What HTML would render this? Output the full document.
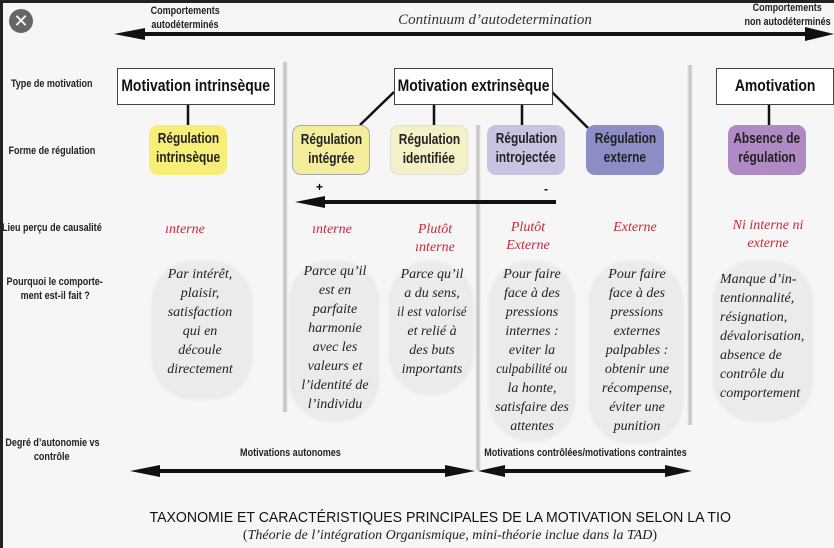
<!DOCTYPE html>
<html><head><meta charset="utf-8"><style>
body{margin:0;width:834px;height:548px;overflow:hidden;background:#f6f6f6;position:relative;font-family:"Liberation Sans",sans-serif}
.a{position:absolute}
.n{display:inline-block;transform:scaleX(.82);transform-origin:center;white-space:nowrap;margin:0 -80px}
.lbl{position:absolute;font-weight:bold;font-size:11px;color:#222;text-align:center;line-height:14px;white-space:nowrap}
.box{position:absolute;background:#fff;border:1.5px solid #444;font-weight:bold;font-size:17px;text-align:center;line-height:34px;color:#111;box-sizing:border-box;white-space:nowrap}
.reg{position:absolute;border-radius:9px;font-weight:bold;font-size:14.5px;text-align:center;line-height:19px;color:#222;box-sizing:border-box;padding-top:5px;height:50px;white-space:nowrap}
.red{position:absolute;font-family:"Liberation Serif",serif;font-style:italic;color:#c8283c;font-size:14px;text-align:center;line-height:18px}
.blob{position:absolute;background:#ebebeb;border-radius:40px;box-shadow:0 0 4px #e0e0e0}
.txt{position:absolute;font-family:"Liberation Serif",serif;font-style:italic;color:#222;font-size:14px;text-align:center;line-height:19px;white-space:nowrap}
.vl{position:absolute;width:6px;background:linear-gradient(90deg,#f6f6f6,#bbb,#f6f6f6)}
</style></head><body>
<div class="a" style="left:0;top:0;width:834px;height:3px;background:#222"></div>
<div class="a" style="left:0;top:0;width:3px;height:548px;background:#222"></div>
<div class="a" style="left:9px;top:9px;width:24px;height:24px;border-radius:50%;background:#666;color:#fff;text-align:center;line-height:24px;font-size:18px">✕</div>

<div class="vl" style="left:282px;top:62px;height:350px"></div>
<div class="vl" style="left:475px;top:125px;height:345px"></div>
<div class="vl" style="left:687px;top:65px;height:360px"></div>

<svg class="a" style="left:0;top:0" width="834" height="548">
<line x1="135" y1="34" x2="815" y2="34" stroke="#111" stroke-width="4"/>
<polygon points="114,34 145,28 145,40" fill="#111"/>
<polygon points="834,34 805,27 805,41" fill="#111"/>
<line x1="188" y1="105" x2="188" y2="125" stroke="#111" stroke-width="2.5"/>
<line x1="394" y1="92" x2="360" y2="125" stroke="#111" stroke-width="2.5"/>
<line x1="434" y1="105" x2="434" y2="125" stroke="#111" stroke-width="2.5"/>
<line x1="522" y1="105" x2="522" y2="125" stroke="#111" stroke-width="2.5"/>
<line x1="552" y1="92" x2="588" y2="128" stroke="#111" stroke-width="2.5"/>
<line x1="769" y1="105" x2="769" y2="125" stroke="#111" stroke-width="2.5"/>
<line x1="315" y1="202" x2="556" y2="202" stroke="#111" stroke-width="4"/>
<polygon points="295,202 325,196 325,208" fill="#111"/>
<line x1="150" y1="471" x2="455" y2="471" stroke="#111" stroke-width="4"/>
<polygon points="130,471 160,465 160,477" fill="#111"/>
<polygon points="475,471 445,465 445,477" fill="#111"/>
<line x1="495" y1="471" x2="675" y2="471" stroke="#111" stroke-width="4"/>
<polygon points="478,471 505,465 505,477" fill="#111"/>
<polygon points="692,471 665,465 665,477" fill="#111"/>
</svg>

<div class="lbl" style="left:135px;top:4px;width:100px"><span class="n">Comportements</span><br><span class="n">autodéterminés</span></div>
<div class="lbl" style="left:735px;top:1px;width:105px"><span class="n">Comportements</span><br><span class="n">non autodéterminés</span></div>
<div class="a" style="left:360px;top:12px;width:270px;text-align:center;font-family:'Liberation Serif',serif;font-style:italic;font-size:15px;color:#333">Continuum d’autodetermination</div>

<div class="lbl" style="left:2px;top:77px;width:100px"><span class="n">Type de motivation</span></div>
<div class="lbl" style="left:2px;top:144px;width:100px"><span class="n">Forme de régulation</span></div>
<div class="lbl" style="left:2px;top:221px;width:100px"><span class="n">Lieu perçu de causalité</span></div>
<div class="lbl" style="left:5px;top:275px;width:100px"><span class="n">Pourquoi le comporte-</span><br><span class="n">ment est-il fait ?</span></div>
<div class="lbl" style="left:2px;top:436px;width:100px"><span class="n">Degré d’autonomie vs</span><br><span class="n">contrôle</span></div>

<div class="box" style="left:117px;top:68px;width:158px;height:37px"><span class="n">Motivation intrinsèque</span></div>
<div class="box" style="left:394px;top:68px;width:159px;height:37px"><span class="n">Motivation extrinsèque</span></div>
<div class="box" style="left:716px;top:68px;width:118px;height:37px"><span class="n">Amotivation</span></div>

<div class="reg" style="left:149px;top:125px;width:78px;background:#f7ee78"><span class="n">Régulation</span><br><span class="n">intrinsèque</span></div>
<div class="reg" style="left:292px;top:125px;width:78px;background:#f4ee9c;border:1.5px solid #aaa"><span class="n">Régulation</span><br><span class="n">intégrée</span></div>
<div class="reg" style="left:390px;top:125px;width:78px;background:#f5f1c6;border:1px solid #ddd"><span class="n">Régulation</span><br><span class="n">identifiée</span></div>
<div class="reg" style="left:487px;top:125px;width:78px;background:#c7c4e2"><span class="n">Régulation</span><br><span class="n">introjectée</span></div>
<div class="reg" style="left:586px;top:125px;width:78px;background:#8d8dc5"><span class="n">Régulation</span><br><span class="n">externe</span></div>
<div class="reg" style="left:728px;top:125px;width:78px;background:#b08ac4"><span class="n">Absence de</span><br><span class="n">régulation</span></div>

<div class="a" style="left:316px;top:180px;font-weight:bold;font-size:12px">+</div>
<div class="a" style="left:544px;top:182px;font-weight:bold;font-size:12px">-</div>

<div class="red" style="left:145px;top:221px;width:80px">ınterne</div>
<div class="red" style="left:292px;top:221px;width:80px">ınterne</div>
<div class="red" style="left:395px;top:221px;width:80px">Plutôt<br>ınterne</div>
<div class="red" style="left:488px;top:219px;width:80px">Plutôt<br>Externe</div>
<div class="red" style="left:595px;top:219px;width:80px">Externe</div>
<div class="red" style="left:720px;top:217px;width:96px">Ni interne ni<br>externe</div>

<div class="blob" style="left:153px;top:262px;width:98px;height:136px"></div>
<div class="blob" style="left:290px;top:262px;width:88px;height:158px"></div>
<div class="blob" style="left:390px;top:262px;width:82px;height:132px"></div>
<div class="blob" style="left:490px;top:262px;width:84px;height:178px"></div>
<div class="blob" style="left:590px;top:262px;width:92px;height:180px"></div>
<div class="blob" style="left:714px;top:262px;width:98px;height:158px"></div>

<div class="txt" style="left:145px;top:265px;width:110px">Par intérêt,<br>plaisir,<br>satisfaction<br>qui en<br>découle<br>directement</div>
<div class="txt" style="left:285px;top:262px;width:100px">Parce qu’il<br>est en<br>parfaite<br>harmonie<br>avec les<br>valeurs et<br>l’identité de<br>l’individu</div>
<div class="txt" style="left:383px;top:265px;width:98px">Parce qu’il<br>a du sens,<br><span class="n" style="transform:scaleX(.92)">il est valorisé</span><br>et relié à<br>des buts<br>importants</div>
<div class="txt" style="left:483px;top:265px;width:98px">Pour faire<br>face à des<br>pressions<br>internes :<br>eviter la<br><span class="n" style="transform:scaleX(.92)">culpabilité ou</span><br>la honte,<br>satisfaire des<br>attentes</div>
<div class="txt" style="left:588px;top:265px;width:98px">Pour faire<br>face à des<br>pressions<br>externes<br>palpables :<br>obtenir une<br>récompense,<br>éviter une<br>punition</div>
<div class="txt" style="left:720px;top:270px;width:100px;text-align:left">Manque d’in-<br>tentionnalité,<br>résignation,<br>dévalorisation,<br>absence de<br>contrôle du<br>comportement</div>

<div class="lbl" style="left:225px;top:446px;width:130px"><span class="n">Motivations autonomes</span></div>
<div class="lbl" style="left:465px;top:446px;width:240px"><span class="n">Motivations contrôlées/motivations contraintes</span></div>

<div class="a" style="left:100px;top:509px;width:680px;text-align:center;font-size:15px;color:#111"><span class="n" style="transform:scaleX(.94)">TAXONOMIE ET CARACTÉRISTIQUES PRINCIPALES DE LA MOTIVATION SELON LA TIO</span></div>
<div class="a" style="left:100px;top:528px;width:700px;text-align:center;font-family:'Liberation Serif',serif;font-style:italic;font-size:14px;color:#222"><span style="font-style:normal">(</span>Théorie de l’intégration Organismique, mini-théorie inclue dans la TAD<span style="font-style:normal">)</span></div>
</body></html>
